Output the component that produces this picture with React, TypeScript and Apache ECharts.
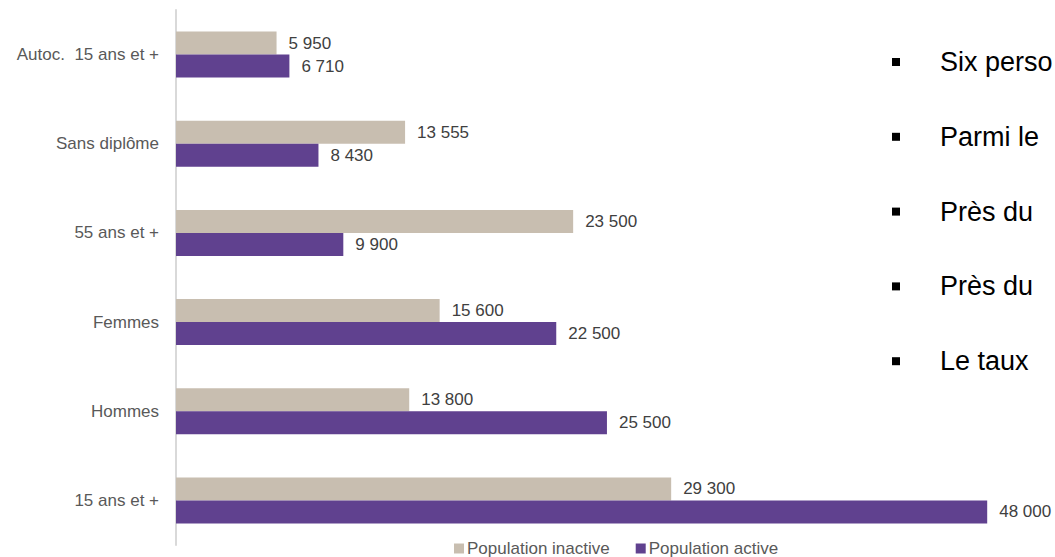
import React, { useEffect, useRef } from "react";
import * as echarts from "echarts";

const categories = ["Autoc.  15 ans et +", "Sans diplôme", "55 ans et +", "Femmes", "Hommes", "15 ans et +"];
const inactiveValues = [5950, 13555, 23500, 15600, 13800, 29300];
const activeValues = [6710, 8430, 9900, 22500, 25500, 48000];
const seriesNames = ["Population inactive", "Population active"];
const bulletTexts = ["Six perso", "Parmi le", "Près du", "Près du", "Le taux"];

const FONT = '"Liberation Sans", Arial, sans-serif';

const fmt = (v: number) => String(v).replace(/\B(?=(\d{3})+(?!\d))/g, " ");

export default function App() {
  const ref = useRef<HTMLDivElement>(null);
  useEffect(() => {
    if (!ref.current) return;
    const chart = echarts.init(ref.current, undefined, { renderer: "svg" });
    const bulletY0 = 62;
    const bulletStep = 74.8;
    const graphics: any[] = [];
    bulletTexts.forEach((t, i) => {
      const cy = bulletY0 + i * bulletStep;
      graphics.push({
        type: "rect",
        shape: { x: 892, y: cy - 4, width: 8, height: 8 },
        style: { fill: "#000000" },
        silent: true,
      });
      graphics.push({
        type: "text",
        x: 940,
        y: cy,
        style: {
          text: t,
          fill: "#000000",
          font: `27px ${FONT}`,
          textVerticalAlign: "middle",
          verticalAlign: "middle",
        },
        silent: true,
      });
    });
    chart.setOption({
      animation: false,
      textStyle: { fontFamily: FONT },
      grid: { left: 176, top: 10, bottom: 12, right: 1055 - 176 - 845, containLabel: false },
      legend: {
        left: 454,
        top: 540,
        padding: 0,
        itemWidth: 10,
        itemHeight: 10,
        itemGap: 26,
        icon: "rect",
        textStyle: { fontSize: 17, color: "#595959", fontFamily: FONT, padding: [0, 0, 0, -2] },
        data: seriesNames,
      },
      xAxis: {
        type: "value",
        min: 0,
        max: 50000,
        show: false,
        splitLine: { show: false },
      },
      yAxis: {
        type: "category",
        inverse: true,
        data: categories,
        axisLine: { show: true, lineStyle: { color: "#D9D9D9", width: 2 } },
        axisTick: { show: false },
        axisLabel: { fontSize: 17, color: "#595959", margin: 17, fontFamily: FONT },
      },
      series: [
        {
          name: seriesNames[0],
          type: "bar",
          data: inactiveValues,
          barWidth: 23,
          barGap: "0%",
          itemStyle: { color: "#C8BEB0" },
          label: {
            show: true,
            position: "right",
            distance: 12,
            fontSize: 17,
            color: "#404040",
            fontFamily: FONT,
            formatter: (p: any) => fmt(p.value),
          },
        },
        {
          name: seriesNames[1],
          type: "bar",
          data: activeValues,
          barWidth: 23,
          barGap: "0%",
          itemStyle: { color: "#60418F" },
          label: {
            show: true,
            position: "right",
            distance: 12,
            fontSize: 17,
            color: "#404040",
            fontFamily: FONT,
            formatter: (p: any) => fmt(p.value),
          },
        },
      ],
      graphic: graphics,
    });
    return () => chart.dispose();
  }, []);
  return <div ref={ref} style={{ width: 1055, height: 557, position: "absolute", left: 0, top: 0 }} />;
}
